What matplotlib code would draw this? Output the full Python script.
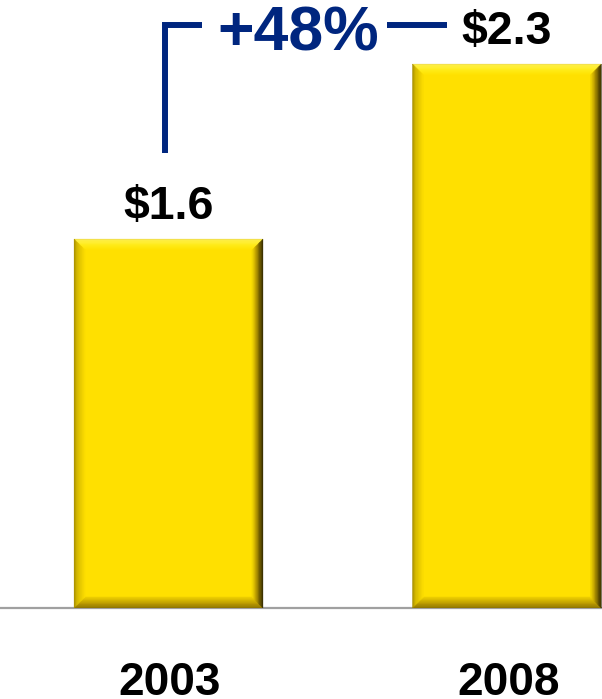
import matplotlib
matplotlib.use('Agg')
import matplotlib.pyplot as plt
import numpy as np
from matplotlib.patches import Polygon
from matplotlib.colors import to_rgb

# ---- data ----
years = ['2003', '2008']
values = [1.56, 2.30]
value_labels = ['$1.6', '$2.3']
growth_label = '+48%'

plt.rcParams['font.family'] = ['Liberation Sans', 'DejaVu Sans']

fig = plt.figure(figsize=(6.02, 6.99), dpi=100)
ax = fig.add_axes([0, 91 / 699, 1, 608 / 699])
x = np.arange(len(years))
bar_w = 0.558
ax.set_xlim(-0.498, 1.281)
ax.set_ylim(0, 2.571)
ax.axis('off')

face = '#FFE000'
navy = '#00267F'
bars = ax.bar(x, values, width=bar_w, color=face, zorder=2, linewidth=0)
ax.axhline(0, color='#A0A0A0', lw=1.6, zorder=1, clip_on=False)

# ---- bevel effect ----
profiles = {
    'top':    [(0, '#E6CE58'), (0.12, '#FFF24A'), (0.6, '#FFEC18'), (1, '#FFE200')],
    'left':   [(0, '#A08800'), (0.3, '#D4B800'), (1, '#FDDE00')],
    'right':  [(0, '#282000'), (0.3, '#645200'), (0.7, '#C4A400'), (1, '#F6DA00')],
    'bottom': [(0, '#846C00'), (0.4, '#B49400'), (1, '#EED000')],
}


def interp_color(stops, t):
    pos = [s[0] for s in stops]
    cols = np.array([to_rgb(s[1]) for s in stops])
    return tuple(np.interp(t, pos, cols[:, k]) for k in range(3))


inv = ax.transData.inverted()
n = 14
bw = 11.0
for rect in bars:
    x0, y0 = rect.get_x(), rect.get_y()
    x1, y1 = x0 + rect.get_width(), y0 + rect.get_height()
    L, B = ax.transData.transform((x0, y0))
    R, T = ax.transData.transform((x1, y1))
    for i in range(n):
        t0 = bw * i / n
        t1 = bw * (i + 1) / n
        tm = (i + 0.5) / n
        polys = {
            'top': [(L + t0, T - t0), (R - t0, T - t0), (R - t1, T - t1), (L + t1, T - t1)],
            'bottom': [(L + t0, B + t0), (R - t0, B + t0), (R - t1, B + t1), (L + t1, B + t1)],
            'left': [(L + t0, B + t0), (L + t0, T - t0), (L + t1, T - t1), (L + t1, B + t1)],
            'right': [(R - t0, B + t0), (R - t0, T - t0), (R - t1, T - t1), (R - t1, B + t1)],
        }
        for side, pts in polys.items():
            c = interp_color(profiles[side], tm)
            dpts = inv.transform(np.array(pts))
            ax.add_patch(Polygon(dpts, closed=True, facecolor=c, edgecolor=c,
                                 linewidth=0.3, zorder=3))

# ---- value labels ----
for xi, v, lab in zip(x, values, value_labels):
    ax.annotate(lab, (xi, v), xytext=(0, 14.2), textcoords='offset points',
                ha='center', va='baseline', fontsize=33.5, fontweight='bold',
                color='black', zorder=5)

# ---- year labels ----
for xi, yr in zip(x, years):
    ax.annotate(yr, (xi, 0), xytext=(1, -62.5), textcoords='offset points',
                ha='center', va='baseline', fontsize=33, fontweight='bold',
                color='black', annotation_clip=False)

# ---- growth bracket ----
ax.plot([x[0] - 0.01, x[0] - 0.01, 0.099], [1.924, 2.465, 2.465], color=navy,
        lw=4.3, solid_joinstyle='miter', solid_capstyle='butt', zorder=4, clip_on=False)
ax.plot([0.6455, 0.8227], [2.465, 2.465], color=navy, lw=4.3,
        solid_capstyle='butt', zorder=4, clip_on=False)
ax.text(0.384, 2.359, growth_label, ha='center', va='baseline', fontsize=45,
        fontweight='bold', color=navy, zorder=5)

fig.savefig('out.png', dpi=100)
